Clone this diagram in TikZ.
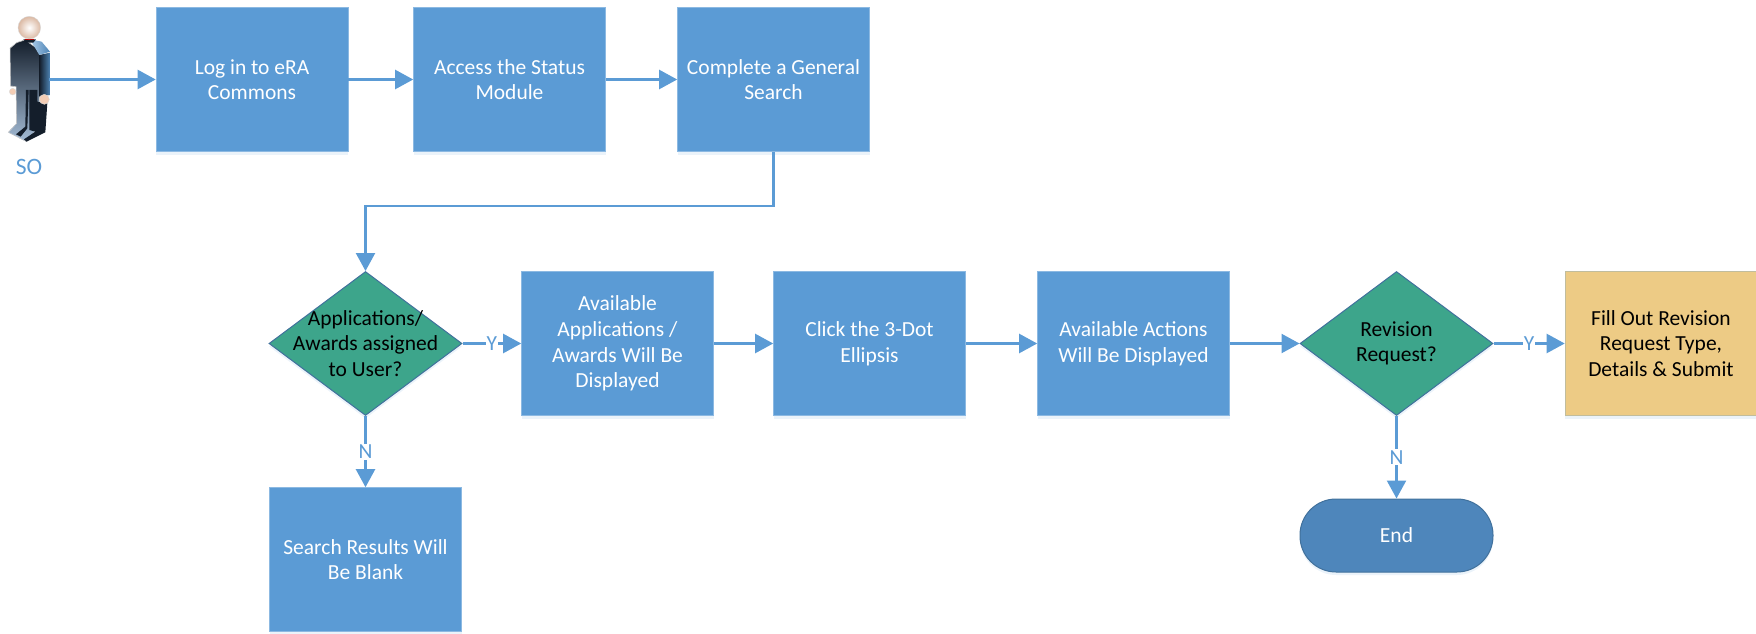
\documentclass[tikz,border=0pt]{standalone}
\usepackage{fontspec}
\setmainfont{Carlito}
\usetikzlibrary{arrows.meta,shapes.geometric,shadows}
\definecolor{flowblue}{HTML}{5B9BD5}
\definecolor{flowgreen}{HTML}{3DA58B}
\definecolor{flowedge}{HTML}{41719C}
\definecolor{flowgold}{HTML}{EDCB85}
\definecolor{flowend}{HTML}{4E86BB}
\definecolor{suitdark}{HTML}{141E2B}
\definecolor{suitpale}{HTML}{A4BCD6}
\definecolor{skintone}{HTML}{F3CDB5}
\tikzset{
	softshadow/.style={drop shadow={shadow xshift=0pt,shadow yshift=-3pt,opacity=.12,fill=flowblue}},
	stepbox/.style={rectangle,draw=flowblue!70!white,line width=0.6pt,fill=flowblue,text=white,minimum width=192pt,minimum height=144pt,inner sep=0pt,align=center,softshadow},
	goldbox/.style={stepbox,fill=flowgold,draw=flowgold!70!flowblue,text=black},
	decision/.style={diamond,aspect=1.34,draw=flowedge,line width=1pt,fill=flowgreen,text=black,minimum width=193pt,minimum height=144pt,inner sep=0pt,align=center,softshadow},
	endcap/.style={rectangle,rounded corners=36pt,draw=flowedge,line width=1pt,fill=flowend,text=white,minimum width=193pt,minimum height=73pt,inner sep=0pt,softshadow},
	flow/.style={draw=flowblue,line width=2.3pt,-{Triangle[length=18pt,width=19pt]}},
	answer/.style={midway,fill=white,text=flowblue,inner sep=1pt,font=\fontsize{21.5}{25}\selectfont},
}
\begin{document}
\begin{tikzpicture}[x=1pt,y=-1pt,font=\fontsize{21.5}{25.6}\selectfont]
	\useasboundingbox (0,0) rectangle (1756,634);
	
	%%%%% person %%%%%
	\begin{scope}[x=0.3333pt,y=-0.3333pt]
		\fill[top color=suitdark,bottom color=suitpale,draw=black!15,line width=0.5pt]
			(30,145) -- (50,128) -- (75,120) -- (118,150) -- (118,300) -- (112,385) -- (80,425) -- (25,397) -- (50,370) -- (48,260) -- (32,258) -- cycle;
		\fill[suitdark] (112,305) -- (142,310) -- (136,397) -- (80,425) -- (72,418) -- (106,395) -- (88,390) -- (88,270) -- (112,270) -- cycle;
		\fill[suitdark] (78,270) -- (86,270) -- (82,385) -- (62,410) -- (48,403) -- (76,380) -- cycle;
		\shade[left color=suitdark,right color=flowblue!85!black] (118,165) -- (150,158) -- (150,285) -- (118,290) -- cycle;
		\shade[left color=flowblue!50!white,right color=flowblue!85!black] (90,118) -- (125,125) -- (150,155) -- (118,165) -- cycle;
		\fill[suitdark] (70,118) -- (108,118) -- (100,128) -- (78,128) -- cycle;
		\fill[red!70!black] (76,117) rectangle (102,121);
		\fill[skintone,draw=black!15] (38,275) circle (10);
		\fill[skintone,draw=black!15] (133,298) circle (15);
		\shade[inner color=white,outer color=skintone!90!black,draw=black!15] (88,83) circle (34);
	\end{scope}
	\coordinate (person) at (49,79.5);
	\node[text=flowblue,font=\fontsize{23.5}{28}\selectfont] (solabel) at (29,167) {SO};
	
	%%%%% top row %%%%%
	\node[stepbox] (login) at (252,79.5) {Log in to eRA\\Commons};
	\node[stepbox] (status) at (509.5,79.5) {Access the Status\\Module};
	\node[stepbox] (search) at (773.5,79.5) {Complete a General\\Search};
	\coordinate (turn) at (365.5,206);
	
	%%%%% middle row %%%%%
	\node[decision] (assigned) at (365.5,343.5) {};
	\node[align=center,text=black] (assignedtext) at (365.5,343.5) {Applications/\\Awards assigned\\to User?};
	\node[stepbox] (available) at (617.5,343.5) {Available\\Applications /\\Awards Will Be\\Displayed};
	\node[stepbox] (dots) at (869.5,343.5) {Click the 3-Dot\\Ellipsis};
	\node[stepbox] (actions) at (1133.5,343.5) {Available Actions\\Will Be Displayed};
	\node[decision] (revision) at (1396.5,343.5) {Revision\\Request?};
	\node[goldbox] (fillout) at (1661,343.5) {Fill Out Revision\\Request Type,\\Details \& Submit};
	
	%%%%% bottom row %%%%%
	\node[stepbox] (blank) at (365.5,559.5) {Search Results Will\\Be Blank};
	\node[endcap] (finish) at (1396.5,535.5) {End};
	
	%%%%% connectors %%%%%
	\draw[flow] (person) -- (login);
	\draw[flow] (login) -- (status);
	\draw[flow] (status) -- (search);
	\draw[flow] (search.south) |- (turn) -- (assigned.north);
	\draw[flow] (assigned) -- node[answer] (yesone) {Y} (available);
	\draw[flow] (assigned) -- node[answer] (noone) {N} (blank);
	\draw[flow] (available) -- (dots);
	\draw[flow] (dots) -- (actions);
	\draw[flow] (actions) -- (revision);
	\draw[flow] (revision) -- node[answer] (yestwo) {Y} (fillout);
	\draw[flow] (revision) -- node[answer] (notwo) {N} (finish);
\end{tikzpicture}
\end{document}
